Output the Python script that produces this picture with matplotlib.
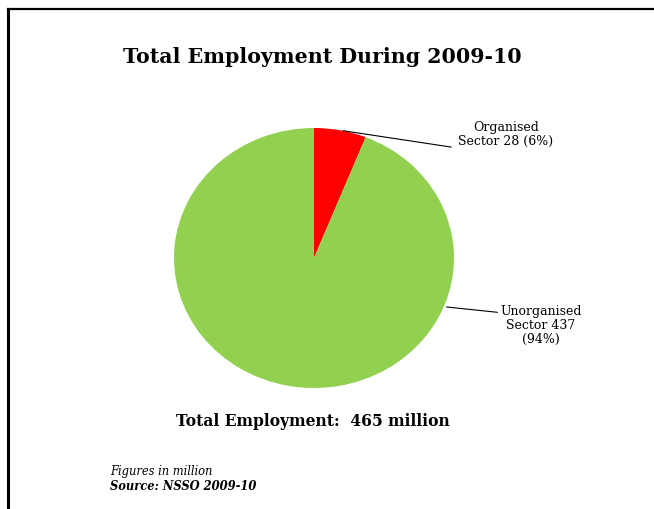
import matplotlib
matplotlib.use('Agg')
import matplotlib.pyplot as plt
import numpy as np

# --- Data ---
sectors = ['Organised\nSector 28 (6%)', 'Unorganised\nSector 437\n(94%)']
values = [28, 437]
colors = ['#FF0000', '#92D050']
total = 465

plt.rcParams['font.family'] = 'DejaVu Serif'

fig = plt.figure(figsize=(6.54, 5.09), dpi=100)

# --- Frame lines (left and top) ---
fig.add_artist(plt.Line2D([8/654, 8/654], [0, 1 - 9/509], color='black', lw=2.2))
fig.add_artist(plt.Line2D([8/654, 653/654], [1 - 9/509, 1 - 9/509], color='black', lw=1.6))

# --- Pie ---
ax = fig.add_axes([174/654, 121/509, 280/654, 260/509])
wedges, _ = ax.pie(values, colors=colors, startangle=90, counterclock=False,
                   wedgeprops=dict(linewidth=0))
ax.set_aspect('auto')
ax.set_xlim(-1, 1)
ax.set_ylim(-1, 1)

# Organised label
w = wedges[0]
ang = np.deg2rad((w.theta1 + w.theta2) / 2)
ax.annotate('', xy=(np.cos(ang), np.sin(ang)), xytext=(1.0, 0.85),
            arrowprops=dict(arrowstyle='-', color='black', lw=0.8))
ax.text(1.37, 0.95, sectors[0], ha='center', va='center', fontsize=9, linespacing=1.1)

# Unorganised label
ang = np.deg2rad(-22)
ax.annotate('', xy=(np.cos(ang), np.sin(ang)), xytext=(1.33, -0.42),
            arrowprops=dict(arrowstyle='-', color='black', lw=0.8))
ax.text(1.62, -0.52, sectors[1], ha='center', va='center', fontsize=9, linespacing=1.1)

# --- Texts ---
fig.text(322/654, 1 - 57/509, 'Total Employment During 2009-10', ha='center', va='center',
         fontsize=14.8, fontweight='bold')
fig.text(313/654, 1 - 422/509, f'Total Employment:  {total} million', ha='center', va='center',
         fontsize=11.2, fontweight='bold')
fig.text(110/654, 1 - 471/509, 'Figures in million', ha='left', va='center',
         fontsize=8.3, style='italic')
fig.text(110/654, 1 - 487/509, 'Source: NSSO 2009-10', ha='left', va='center',
         fontsize=8.3, style='italic', fontweight='bold')

fig.savefig('out.png', dpi=100)
